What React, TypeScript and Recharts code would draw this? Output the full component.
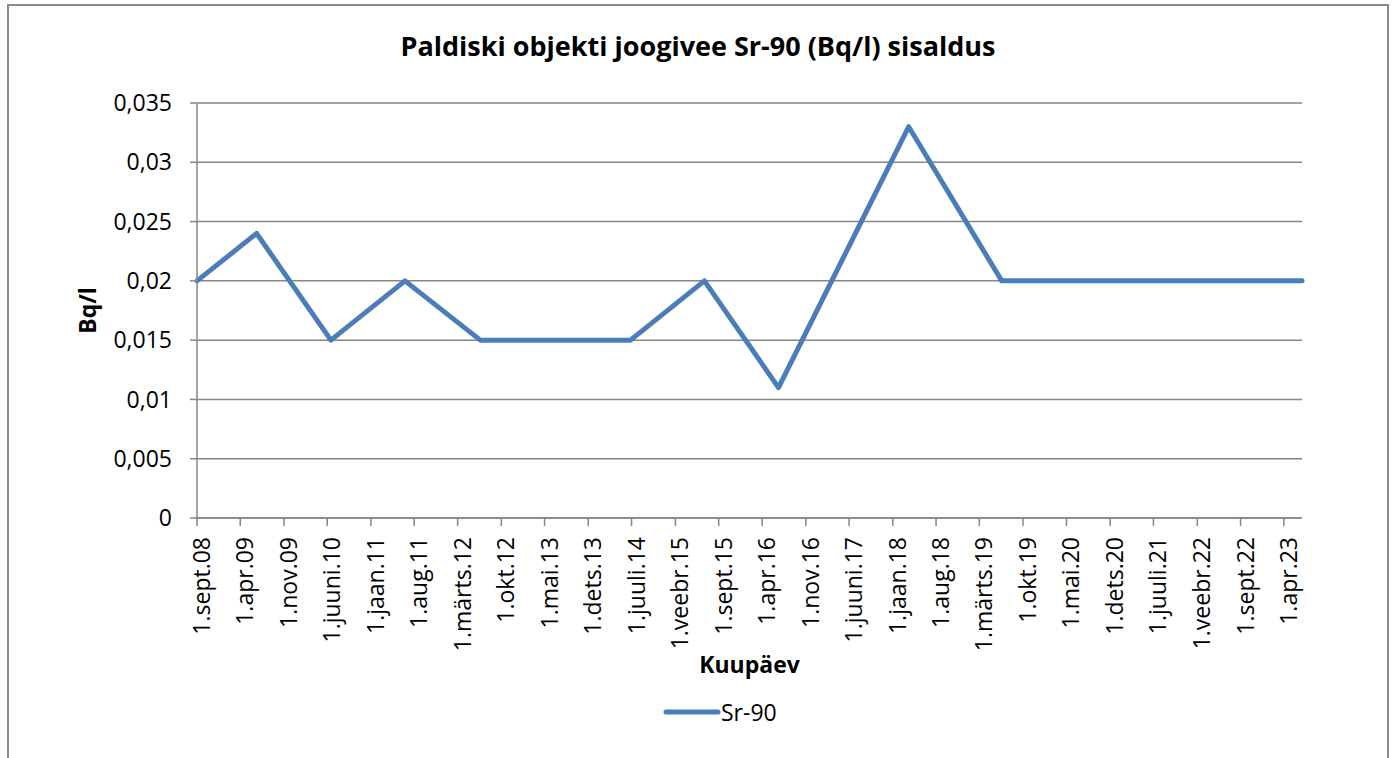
import React from 'react';
import { LineChart, Line, XAxis, YAxis, CartesianGrid, Legend, Label } from 'recharts';

// sampling dates and Sr-90 activity (Bq/l)
const sampleDates = [
    '2008-09-01', '2009-06-20', '2010-06-19', '2011-06-17', '2012-06-20',
    '2013-06-20', '2014-06-26', '2015-06-23', '2016-06-20', '2018-03-20',
    '2019-06-19', '2020-06-20', '2021-06-20', '2022-06-20', '2023-06-29',
];
const sr90Values = [
    0.02, 0.024, 0.015, 0.02, 0.015,
    0.015, 0.015, 0.02, 0.011, 0.033,
    0.02, 0.02, 0.02, 0.02, 0.02,
];

// x axis ticks every 7 months
const tickDates = [
    '2008-09-01', '2009-04-01', '2009-11-01', '2010-06-01', '2011-01-01', '2011-08-01',
    '2012-03-01', '2012-10-01', '2013-05-01', '2013-12-01', '2014-07-01', '2015-02-01',
    '2015-09-01', '2016-04-01', '2016-11-01', '2017-06-01', '2018-01-01', '2018-08-01',
    '2019-03-01', '2019-10-01', '2020-05-01', '2020-12-01', '2021-07-01', '2022-02-01',
    '2022-09-01', '2023-04-01',
];
const tickLabels = [
    '1.sept.08', '1.apr.09', '1.nov.09', '1.juuni.10', '1.jaan.11', '1.aug.11',
    '1.märts.12', '1.okt.12', '1.mai.13', '1.dets.13', '1.juuli.14', '1.veebr.15',
    '1.sept.15', '1.apr.16', '1.nov.16', '1.juuni.17', '1.jaan.18', '1.aug.18',
    '1.märts.19', '1.okt.19', '1.mai.20', '1.dets.20', '1.juuli.21', '1.veebr.22',
    '1.sept.22', '1.apr.23',
];
const yTicks = [0, 0.005, 0.01, 0.015, 0.02, 0.025, 0.03, 0.035];

const FONT = "'Open Sans', 'Noto Sans', sans-serif";
const LINE_COLOR = '#4a7ebb';
const GRID_COLOR = '#868686';

const chartData = sampleDates.map((d, i) => ({
    date: Date.parse(d),
    'Sr-90': sr90Values[i],
}));
const tickValues = tickDates.map(d => Date.parse(d));

const formatY = (v: number) => String(Number(v.toFixed(3))).replace('.', ',');

function DateTick(props: any) {
    const { x, y, payload } = props;
    const idx = tickValues.indexOf(payload.value);
    const label = idx >= 0 ? tickLabels[idx] : '';
    return (
        <text
            x={x}
            y={y}
            dy={13}
            transform={`rotate(-90, ${x}, ${y})`}
            textAnchor="end"
            fill="#000"
            fontSize={23}
            fontFamily={FONT}
        >
            {label}
        </text>
    );
}

function LegendContent() {
    return (
        <div style={{ display: 'flex', alignItems: 'center', fontFamily: FONT, fontSize: 23, color: '#000' }}>
            <svg width={58} height={12}>
                <line x1={3} y1={6} x2={55} y2={6} stroke={LINE_COLOR} strokeWidth={5} strokeLinecap="round" />
            </svg>
            <span>Sr-90</span>
        </div>
    );
}

export default function App() {
    return (
        <div
            style={{
                position: 'absolute',
                left: 7,
                top: 4,
                width: 1382,
                height: 790,
                border: '2px solid #8a8a8a',
                boxSizing: 'border-box',
                background: '#fff',
                fontFamily: FONT,
            }}
        >
            <div
                style={{
                    position: 'absolute',
                    left: 0,
                    width: 1378,
                    top: 26,
                    textAlign: 'center',
                    fontSize: 27,
                    lineHeight: '27px',
                    fontWeight: 700,
                    color: '#000',
                }}
            >
                Paldiski objekti joogivee Sr-90 (Bq/l) sisaldus
            </div>
            <LineChart
                width={1378}
                height={770}
                data={chartData}
                margin={{ top: 97, right: 85, bottom: 0, left: 0 }}
            >
                <CartesianGrid vertical={false} stroke={GRID_COLOR} strokeWidth={1.5} />
                <XAxis
                    dataKey="date"
                    type="number"
                    scale="linear"
                    domain={[tickValues[0], chartData[chartData.length - 1].date]}
                    ticks={tickValues}
                    interval={0}
                    height={258}
                    tickSize={8}
                    tickMargin={11}
                    tick={<DateTick />}
                    stroke={GRID_COLOR}
                    strokeWidth={1.5}
                >
                    <Label
                        value="Kuupäev"
                        position="insideTop"
                        offset={139}
                        style={{ fontSize: 23, fontWeight: 700, fill: '#000', fontFamily: FONT }}
                    />
                </XAxis>
                <YAxis
                    type="number"
                    domain={[0, 0.035]}
                    ticks={yTicks}
                    interval={0}
                    width={188}
                    tickSize={7}
                    tickMargin={18}
                    tickFormatter={formatY}
                    tick={{ fill: '#000', fontSize: 23, fontFamily: FONT }}
                    stroke={GRID_COLOR}
                    strokeWidth={1.5}
                >
                    <Label
                        content={(p: any) => {
                            const vb = p.viewBox || {};
                            const cx = (vb.x || 0) + 79;
                            const cy = (vb.y || 0) + (vb.height || 0) / 2;
                            return (
                                <text
                                    x={cx}
                                    y={cy}
                                    dy="0.35em"
                                    transform={`rotate(-90, ${cx}, ${cy})`}
                                    textAnchor="middle"
                                    fontSize={23}
                                    fontWeight={700}
                                    fill="#000"
                                    fontFamily={FONT}
                                >
                                    Bq/l
                                </text>
                            );
                        }}
                    />
                </YAxis>
                <Legend
                    layout="horizontal"
                    verticalAlign="middle"
                    align="center"
                    content={<LegendContent />}
                    wrapperStyle={{ top: 690, left: 654, width: 'auto' }}
                />
                <Line
                    type="linear"
                    dataKey="Sr-90"
                    stroke={LINE_COLOR}
                    strokeWidth={5}
                    strokeLinejoin="round"
                    strokeLinecap="round"
                    dot={false}
                    activeDot={false}
                    isAnimationActive={false}
                />
            </LineChart>
        </div>
    );
}
